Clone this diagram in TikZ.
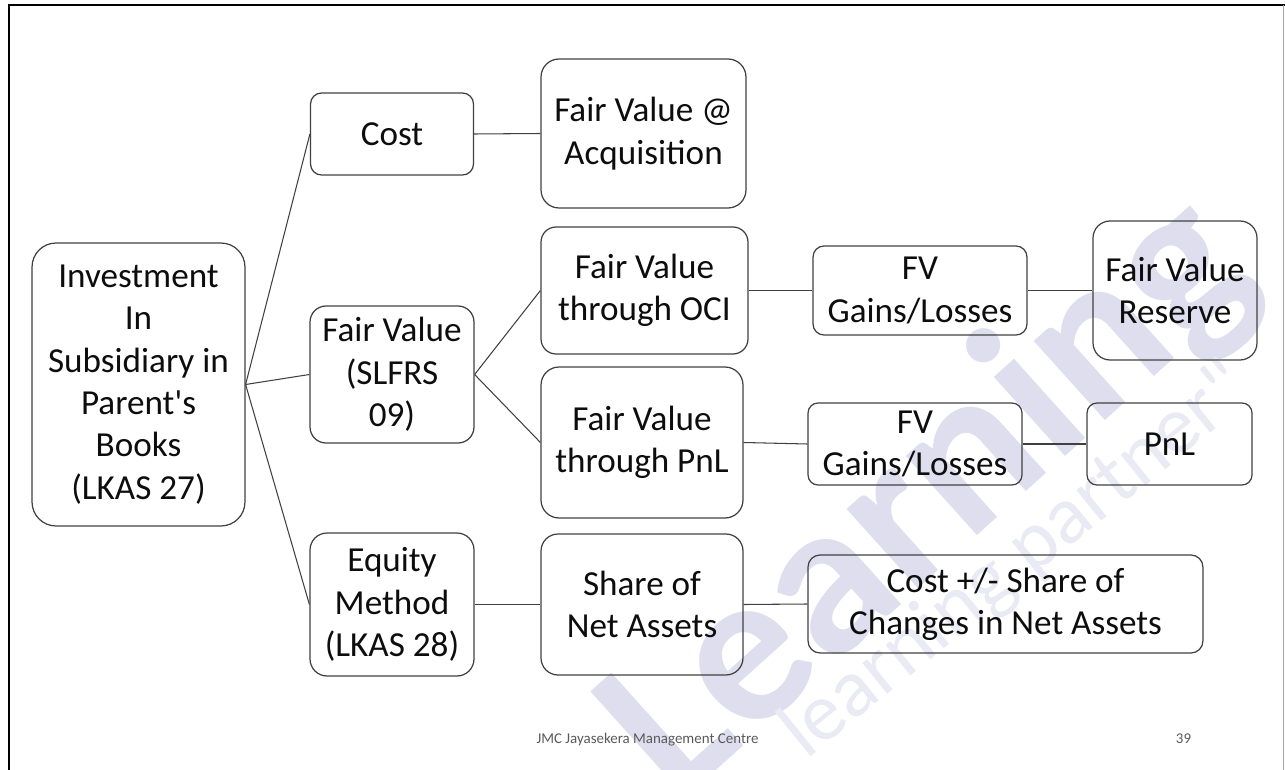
\documentclass[tikz,border=0pt]{standalone}
\usepackage{fontspec}
\setmainfont{Carlito}[Ligatures=TeXOff]
\usetikzlibrary{positioning}

\definecolor{edgegray}{RGB}{64,64,64}
\definecolor{footgray}{RGB}{89,89,89}
\definecolor{wmark}{RGB}{222,222,238}

\begin{document}
\begin{tikzpicture}[x=0.02cm,y=-0.02cm,
  box/.style={draw=edgegray,line width=0.7pt,rounded corners=#1,align=center,
    inner sep=0pt,text=black!95,font=\fontsize{20}{24.1}\selectfont},
  box/.default=0.3cm,
  conn/.style={draw=edgegray,line width=0.6pt},
  foot/.style={text=footgray,font=\fontsize{8.5}{10}\selectfont,anchor=base}]
  \useasboundingbox (0,0) rectangle (1285,770);

  % watermark
  \node[text=wmark,font=\fontsize{125}{130}\bfseries\selectfont,rotate=42] (wm) at (930,500) {Learning};
  \node[text=wmark!65,font=\fontsize{47}{52}\selectfont,rotate=39] (wm2) at (1017,562) {learning partner"};

  % slide frame
  \draw[line width=1.7pt] (9,770) -- (9,5) -- (1285,5);
  \draw[black!35,line width=0.5pt] (1283,5) -- (1283,770);

  % first level
  \node[box=0.48cm,minimum width=4.26cm,minimum height=5.66cm] (inv) at (138.5,384.5)
    {Investment\\In\\Subsidiary in\\Parent's\\Books\\(LKAS 27)};
  \node[box=0.22cm,minimum width=3.26cm,minimum height=1.64cm] (cost) at (392,134) {Cost};
  \node[box=0.32cm,minimum width=3.28cm,minimum height=2.74cm] (fv) at (392,374.5) {Fair Value\\(SLFRS\\09)};
  \node[box=0.34cm,minimum width=3.28cm,minimum height=2.86cm] (eq) at (392,604.5) {Equity\\Method\\(LKAS 28)};

  % second level
  \node[box=0.36cm,minimum width=4.1cm,minimum height=2.98cm] (acq) at (643.5,133.5) {Fair Value @\\Acquisition};
  \node[box=0.3cm,minimum width=4.14cm,minimum height=2.54cm] (oci) at (644.5,290.5) {Fair Value\\through OCI};
  \node[box=0.36cm,minimum width=4.04cm,minimum height=3.02cm] (pnl) at (642,442.5) {Fair Value\\through PnL};
  \node[box=0.34cm,minimum width=4.04cm,minimum height=2.82cm] (share) at (642,604.5) {Share of\\Net Assets};

  % third level
  \node[box=0.22cm,minimum width=4.28cm,minimum height=1.78cm] (gl1) at (920,290.5) {FV\\Gains/Losses};
  \node[box=0.34cm,minimum width=3.28cm,minimum height=2.78cm] (fvr) at (1175,290.5) {Fair Value\\Reserve};
  \node[box=0.2cm,minimum width=4.28cm,minimum height=1.64cm] (gl2) at (915,444) {FV\\Gains/Losses};
  \node[box=0.2cm,minimum width=3.3cm,minimum height=1.64cm] (res) at (1169.5,444) {PnL};
  \node[box=0.24cm,minimum width=7.9cm,minimum height=1.96cm] (chg) at (1005.5,604) {Cost +/- Share of\\Changes in Net Assets};

  \path[conn]
  (inv.east)   edge (cost.west)
               edge (fv.west)
               edge (eq.west)
  (cost.east)  edge (acq.west)
  (fv.east)    edge (oci.west)
               edge (pnl.west)
  (eq.east)    edge (share.west)
  (oci.east)   edge (gl1.west)
  (gl1.east)   edge (fvr.west)
  (pnl.east)   edge (gl2.west)
  (gl2.east)   edge (res.west)
  (share.east) edge (chg.west);

  % footer
  \node[foot] (centre) at (647.5,743) {JMC Jayasekera Management Centre};
  \node[foot] (pageno) at (1183.5,743) {39};
\end{tikzpicture}
\end{document}
